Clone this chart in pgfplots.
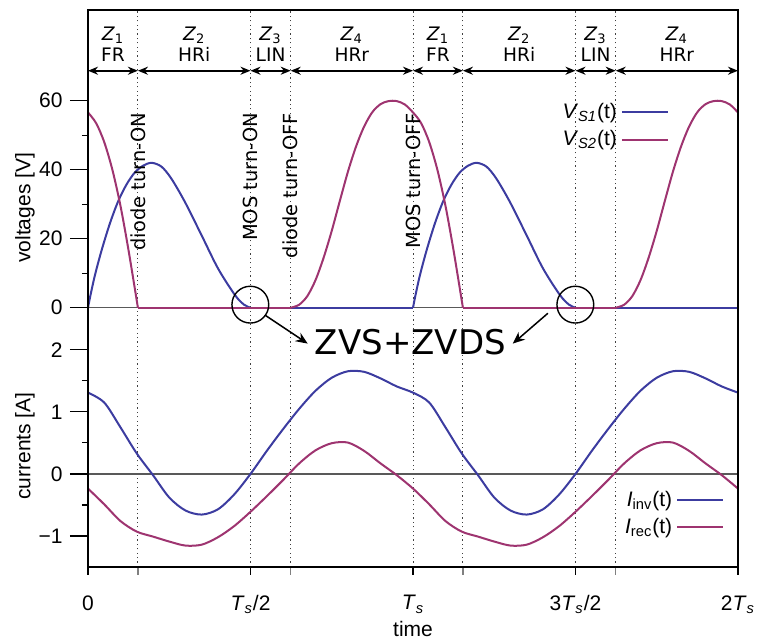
\documentclass[border=0pt]{standalone}
\usepackage{fontspec}
\setmainfont{Liberation Sans}
\newfontfamily\dejavu{DejaVu Sans}
\usepackage{pgfplots}
\pgfplotsset{compat=1.18}
\usetikzlibrary{arrows.meta}
\definecolor{cblue}{RGB}{60,60,160}
\definecolor{cpurp}{RGB}{158,52,112}
\newcommand{\Ts}{\textit{T}\textsubscript{\textit{s}}}
\tikzset{
  hdr/.style={anchor=base, font=\dejavu\fontsize{9.3}{11}\selectfont},
  rot/.style={rotate=90, anchor=east, inner sep=0pt, font=\dejavu\fontsize{9.7}{11}\selectfont},
  zarr/.style={{Stealth[length=5pt,width=4pt]}-{Stealth[length=5pt,width=4pt]}, line width=0.9pt},
}
\begin{document}
\fontsize{10.5}{12.6}\selectfont
\begin{tikzpicture}
\pgfplotsset{
  every axis/.append style={
    width=325pt, scale only axis, xmin=0, xmax=2, clip=false,
    tick align=outside, major tick length=9pt, minor tick length=3pt,
    every tick/.style={black, line width=0.6pt},
    xmajorgrids,
    major grid style={black!75, line width=0.5pt, dash pattern=on 0.6pt off 1.6pt},
    axis line style={line width=1pt},
    legend cell align=right, legend plot pos=right,
    legend image code/.code={\draw[#1] (0pt,0pt) -- (23pt,0pt);},
  },
}
% ---------------- bottom axis: currents ----------------
\begin{axis}[name=bot, height=121pt, ymin=-1.5, ymax=2.4,
  axis x line*=bottom, axis y line*=left,
  xtick={0,0.5,1,1.5,2},
  xticklabels={0, \Ts/2, \Ts, 3\Ts/2, 2\Ts},
  xtick style={/pgfplots/major tick length=4pt},
  xticklabel style={yshift=-1.5pt},
  extra x ticks={0.1536,0.6237,1.1536,1.6237}, extra x tick labels={},
  extra x tick style={grid=major, xtick style={draw=gray, /pgfplots/major tick length=4pt}},
  ytick={-1,0,1,2}, yticklabels={−1,0,1,2}, minor ytick={-0.5,0.5,1.5},
  xlabel={time},
  xlabel style={at={([yshift=-31pt]rel axis cs:0.5,0)}, anchor=center},
  ylabel={currents [A]},
  ylabel style={at={([xshift=-31.5pt]rel axis cs:0,0.5)}, anchor=center},
  legend style={draw=none, fill=none, at={(axis cs:1.965,-0.17)}, anchor=north east,
    row sep=0.5pt, inner sep=1pt},
]
\draw[black!65, line width=0.6pt] (axis cs:0,0) -- (axis cs:2,0);
\addplot[cblue, line width=1pt, smooth] coordinates {
(0,1.31) (0.05,1.15) (0.1,0.75) (0.15,0.33) (0.2,-0.02) (0.25,-0.38) (0.3,-0.59) (0.35,-0.655) (0.4,-0.57) (0.45,-0.33) (0.5,0.0) (0.55,0.37) (0.6,0.72) (0.65,1.05) (0.7,1.34) (0.75,1.55) (0.8,1.655) (0.85,1.645) (0.9,1.54) (0.95,1.41) (1,1.31)
(1.05,1.15) (1.1,0.75) (1.15,0.33) (1.2,-0.02) (1.25,-0.38) (1.3,-0.59) (1.35,-0.655) (1.4,-0.57) (1.45,-0.33) (1.5,0.0) (1.55,0.37) (1.6,0.72) (1.65,1.05) (1.7,1.34) (1.75,1.55) (1.8,1.655) (1.85,1.645) (1.9,1.54) (1.95,1.41) (2,1.31)};
\addlegendentry{\textit{I}\textsubscript{inv}(t)}
\addplot[cpurp, line width=1pt, smooth] coordinates {
(0,-0.236) (0.05,-0.49) (0.1,-0.76) (0.15,-0.93) (0.2,-1.01) (0.25,-1.09) (0.3,-1.155) (0.35,-1.14) (0.4,-1.02) (0.45,-0.84) (0.5,-0.61) (0.55,-0.36) (0.6,-0.10) (0.65,0.17) (0.7,0.38) (0.75,0.495) (0.8,0.505) (0.85,0.37) (0.9,0.17) (0.95,-0.02) (1,-0.236)
(1.05,-0.49) (1.1,-0.76) (1.15,-0.93) (1.2,-1.01) (1.25,-1.09) (1.3,-1.155) (1.35,-1.14) (1.4,-1.02) (1.45,-0.84) (1.5,-0.61) (1.55,-0.36) (1.6,-0.10) (1.65,0.17) (1.7,0.38) (1.75,0.495) (1.8,0.505) (1.85,0.37) (1.9,0.17) (1.95,-0.02) (2,-0.236)};
\addlegendentry{\textit{I}\textsubscript{rec}(t)}
\node[font=\dejavu\fontsize{17}{20}\selectfont, inner sep=0pt] at (axis cs:0.992,2.12) {ZVS+ZVDS};
\coordinate (b1) at (axis cs:0.676,2.10);
\coordinate (b2) at (axis cs:1.307,2.10);
\end{axis}
% ---------------- top axis: voltages ----------------
\begin{axis}[name=top, at={(bot.north west)}, anchor=south west,
  height=157.5pt, ymin=-5, ymax=86.3,
  axis x line*=top, axis y line*=left,
  xtick={0.1536,0.5,0.6237,1,1.1536,1.5,1.6237}, xticklabels={},
  xtick style={draw=none},
  ytick={0,20,40,60}, yticklabels={0,20,40,60}, minor ytick={10,30,50},
  ylabel={voltages [V]},
  ylabel style={at={([xshift=-31.5pt]rel axis cs:0,0.372)}, anchor=center},
  legend style={draw=none, fill=none, at={(axis cs:1.795,61.2)}, anchor=north east,
    row sep=0.5pt, inner sep=1pt},
]
\draw[black!65, line width=0.6pt] (axis cs:0,0) -- (axis cs:2,0);
% V_S1
\addplot[cblue, line width=1pt, smooth] coordinates {
(0,0) (0.008,3.8) (0.0215,9.5) (0.042,16.7) (0.0676,24.5) (0.093,30.9) (0.119,35.8) (0.144,39.2) (0.170,41.2) (0.196,42.0) (0.226,40.9) (0.256,37.5) (0.298,30.7) (0.349,21.1) (0.400,11.4) (0.452,3.7) (0.480,0.9) (0.5,0)};
\addlegendentry{\textit{V}\textsubscript{\textit{S1}}(t)}
\addplot[cpurp, line width=1pt, smooth] coordinates {
(0,56.6) (0.025,53.5) (0.05,48.0) (0.075,40.0) (0.1,29.5) (0.125,16.5) (0.1536,0)};
\addlegendentry{\textit{V}\textsubscript{\textit{S2}}(t)}
\addplot[cblue, line width=1pt, forget plot] coordinates {(0.5,0) (1,0)};
\addplot[cblue, line width=1pt, smooth, forget plot] coordinates {
(1,0) (1.008,3.8) (1.0215,9.5) (1.042,16.7) (1.0676,24.5) (1.093,30.9) (1.119,35.8) (1.144,39.2) (1.170,41.2) (1.196,42.0) (1.226,40.9) (1.256,37.5) (1.298,30.7) (1.349,21.1) (1.400,11.4) (1.452,3.7) (1.480,0.9) (1.5,0)};
\addplot[cblue, line width=1pt, forget plot] coordinates {(1.5,0) (2,0)};
% V_S2
\addplot[cpurp, line width=1pt, forget plot] coordinates {(0.1536,0) (0.6237,0)};
\addplot[cpurp, line width=1pt, smooth, forget plot] coordinates {
(0.6237,0) (0.65,0.9) (0.675,3.4) (0.70,8.0) (0.725,14.5) (0.75,22.3) (0.775,31.0) (0.80,39.5) (0.825,46.8) (0.85,52.6) (0.875,56.7) (0.90,59.0) (0.925,59.9) (0.95,59.9) (0.975,58.9) (1.0,56.6)
(1.025,53.5) (1.05,48.0) (1.075,40.0) (1.1,29.5) (1.125,16.5) (1.1536,0)};
\addplot[cpurp, line width=1pt, forget plot] coordinates {(1.1536,0) (1.6237,0)};
\addplot[cpurp, line width=1pt, smooth, forget plot] coordinates {
(1.6237,0) (1.65,0.9) (1.675,3.4) (1.70,8.0) (1.725,14.5) (1.75,22.3) (1.775,31.0) (1.80,39.5) (1.825,46.8) (1.85,52.6) (1.875,56.7) (1.90,59.0) (1.925,59.9) (1.95,59.9) (1.975,58.9) (2.0,56.6)};
% header
\draw[zarr] (axis cs:0,68.7) -- (axis cs:0.1536,68.7);
\draw[zarr] (axis cs:0.1536,68.7) -- (axis cs:0.5,68.7);
\draw[zarr] (axis cs:0.5,68.7) -- (axis cs:0.6237,68.7);
\draw[zarr] (axis cs:0.6237,68.7) -- (axis cs:1,68.7);
\draw[zarr] (axis cs:1,68.7) -- (axis cs:1.1536,68.7);
\draw[zarr] (axis cs:1.1536,68.7) -- (axis cs:1.5,68.7);
\draw[zarr] (axis cs:1.5,68.7) -- (axis cs:1.6237,68.7);
\draw[zarr] (axis cs:1.6237,68.7) -- (axis cs:2,68.7);
\node[hdr] at (axis cs:0.0768,77.6) {\textit{Z}\textsubscript{1}};
\node[hdr] at (axis cs:0.0768,71.3) {FR};
\node[hdr] at (axis cs:0.3268,77.6) {\textit{Z}\textsubscript{2}};
\node[hdr] at (axis cs:0.3268,71.3) {HRi};
\node[hdr] at (axis cs:0.5618,77.6) {\textit{Z}\textsubscript{3}};
\node[hdr] at (axis cs:0.5618,71.3) {LIN};
\node[hdr] at (axis cs:0.8118,77.6) {\textit{Z}\textsubscript{4}};
\node[hdr] at (axis cs:0.8118,71.3) {HRr};
\node[hdr] at (axis cs:1.0768,77.6) {\textit{Z}\textsubscript{1}};
\node[hdr] at (axis cs:1.0768,71.3) {FR};
\node[hdr] at (axis cs:1.3268,77.6) {\textit{Z}\textsubscript{2}};
\node[hdr] at (axis cs:1.3268,71.3) {HRi};
\node[hdr] at (axis cs:1.5618,77.6) {\textit{Z}\textsubscript{3}};
\node[hdr] at (axis cs:1.5618,71.3) {LIN};
\node[hdr] at (axis cs:1.8118,77.6) {\textit{Z}\textsubscript{4}};
\node[hdr] at (axis cs:1.8118,71.3) {HRr};
% event labels
\node[rot] at (axis cs:0.1536,56.5) {diode turn-ON};
\node[rot] at (axis cs:0.5,56.5) {MOS turn-ON};
\node[rot] at (axis cs:0.6237,56.5) {diode turn-OFF};
\node[rot] at (axis cs:1,56.5) {MOS turn-OFF};
% circles
\draw[line width=0.7pt] (axis cs:0.4995,0.9) circle[radius=9.2pt];
\draw[line width=0.7pt] (axis cs:1.4995,0.9) circle[radius=9.2pt];
\coordinate (a1) at (axis cs:0.544,-2.1);
\coordinate (a2) at (axis cs:1.415,-1.6);
\end{axis}
\draw[-{Stealth[length=6pt,width=5pt]}, line width=0.75pt] (a1) -- (b1);
\draw[-{Stealth[length=6pt,width=5pt]}, line width=0.75pt] (a2) -- (b2);
\draw[line width=1pt] (bot.south west) rectangle (top.north east);
\pgfresetboundingbox
\path ([xshift=-44pt,yshift=-37.5pt]bot.south west) rectangle ([xshift=11.5pt,yshift=5pt]top.north east);
\end{tikzpicture}
\end{document}
